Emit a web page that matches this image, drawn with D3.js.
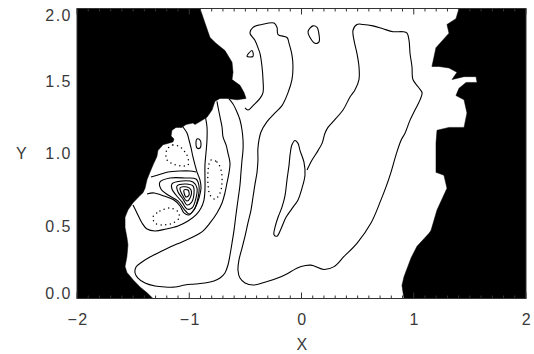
<!DOCTYPE html>
<html><head><meta charset="utf-8">
<script src="https://cdn.jsdelivr.net/npm/d3@7"></script>
<style>body{margin:0;background:#fff}svg{display:block}</style>
</head><body><svg id="chart" width="534" height="354"></svg>
<script>
// Axis ticks and labels
const xTickValues = [-2, -1, 0, 1, 2];
const xTickLabels = ["\u22122", "\u22121", "0", "1", "2"];
const yTickValues = [0, 0.5, 1, 1.5, 2];
const yTickLabels = ["0.0", "0.5", "1.0", "1.5", "2.0"];

// Regions without data (filled black)
const maskLeft = [[-2,2],[-0.904,2],[-0.860,1.90],[-0.815,1.80],[-0.762,1.76],[-0.682,1.71],[-0.619,1.63],[-0.610,1.56],[-0.619,1.51],[-0.548,1.47],[-0.512,1.42],[-0.494,1.38],[-0.575,1.37],[-0.664,1.38],[-0.726,1.38],[-0.771,1.36],[-0.797,1.30],[-0.842,1.25],[-0.904,1.22],[-0.949,1.20],[-0.967,1.21],[-1.029,1.20],[-1.065,1.18],[-1.118,1.18],[-1.154,1.16],[-1.162,1.12],[-1.136,1.10],[-1.145,1.08],[-1.234,1.06],[-1.279,1.02],[-1.288,0.98],[-1.323,0.92],[-1.350,0.87],[-1.376,0.82],[-1.394,0.76],[-1.412,0.73],[-1.439,0.71],[-1.501,0.66],[-1.546,0.61],[-1.572,0.56],[-1.572,0.49],[-1.555,0.42],[-1.546,0.37],[-1.555,0.29],[-1.572,0.22],[-1.555,0.18],[-1.501,0.13],[-1.439,0.08],[-1.376,0.04],[-1.323,0],[-2,0]];
const maskRight = [[1.403,2],[1.376,1.93],[1.296,1.89],[1.314,1.83],[1.198,1.73],[1.162,1.60],[1.225,1.60],[1.314,1.59],[1.385,1.56],[1.341,1.51],[1.448,1.53],[1.555,1.53],[1.564,1.49],[1.466,1.49],[1.403,1.45],[1.376,1.40],[1.448,1.37],[1.474,1.28],[1.448,1.18],[1.314,1.18],[1.207,1.16],[1.198,1.07],[1.198,0.87],[1.269,0.85],[1.296,0.76],[1.207,0.61],[1.154,0.47],[1.136,0.45],[1.029,0.36],[0.976,0.28],[0.913,0.15],[0.895,0.09],[0.913,0],[2,0],[2,2]];

// Solid contour levels, open paths
const contourHairpin = [[-0.753,1.359],[-0.744,1.321],[-0.726,1.252],[-0.708,1.183],[-0.699,1.114],[-0.672,1.059],[-0.655,1.003],[-0.637,0.934],[-0.646,0.866],[-0.664,0.797],[-0.682,0.728],[-0.708,0.659],[-0.753,0.590],[-0.815,0.521],[-0.887,0.459],[-0.967,0.424],[-1.065,0.390],[-1.171,0.355],[-1.261,0.321],[-1.350,0.286],[-1.421,0.252],[-1.474,0.217],[-1.483,0.176],[-1.457,0.141],[-1.394,0.107],[-1.305,0.086],[-1.216,0.079],[-1.127,0.079],[-1.038,0.093],[-0.949,0.100],[-0.860,0.107],[-0.780,0.121],[-0.726,0.141],[-0.682,0.176],[-0.655,0.231],[-0.637,0.300],[-0.619,0.383],[-0.601,0.472],[-0.584,0.576],[-0.566,0.679],[-0.548,0.783],[-0.539,0.872],[-0.530,0.955],[-0.521,1.024],[-0.521,1.093],[-0.530,1.162],[-0.548,1.231],[-0.575,1.286],[-0.610,1.341],[-0.646,1.376]];
const contourBig = [[-0.503,1.314],[-0.477,1.30],[-0.432,1.33],[-0.370,1.38],[-0.343,1.42],[-0.343,1.51],[-0.352,1.60],[-0.370,1.69],[-0.388,1.73],[-0.414,1.78],[-0.459,1.83],[-0.432,1.87],[-0.352,1.89],[-0.245,1.90],[-0.218,1.87],[-0.209,1.82],[-0.129,1.80],[-0.111,1.76],[-0.085,1.68],[-0.076,1.60],[-0.085,1.51],[-0.120,1.42],[-0.174,1.33],[-0.236,1.28],[-0.307,1.22],[-0.361,1.148],[-0.388,1.038],[-0.388,0.955],[-0.396,0.872],[-0.414,0.790],[-0.432,0.700],[-0.450,0.610],[-0.477,0.521],[-0.503,0.431],[-0.530,0.348],[-0.557,0.266],[-0.566,0.197],[-0.548,0.141],[-0.503,0.107],[-0.432,0.093],[-0.334,0.11],[-0.183,0.15],[-0.004,0.22],[0.085,0.23],[0.200,0.20],[0.290,0.22],[0.379,0.29],[0.494,0.38],[0.619,0.52],[0.708,0.68],[0.753,0.77],[0.797,0.87],[0.842,0.99],[0.886,1.09],[0.922,1.14],[0.967,1.23],[1.011,1.30],[1.056,1.37],[1.074,1.42],[1.038,1.46],[0.993,1.51],[0.984,1.60],[0.967,1.69],[0.958,1.78],[0.940,1.83],[0.904,1.84],[0.815,1.84],[0.726,1.86],[0.637,1.88],[0.548,1.89],[0.494,1.89],[0.459,1.85],[0.468,1.78],[0.494,1.69],[0.512,1.60],[0.512,1.51],[0.477,1.44],[0.432,1.39],[0.370,1.30],[0.281,1.22],[0.236,1.18],[0.209,1.14],[0.183,1.07],[0.147,1.02],[0.094,0.955],[0.049,0.886]];
const contourInner = [[-0.860,1.266],[-0.842,1.183],[-0.842,1.093],[-0.851,1.003],[-0.860,0.921],[-0.860,0.838],[-0.860,0.748],[-0.869,0.679],[-0.895,0.624],[-0.940,0.576],[-1.011,0.534],[-1.100,0.500],[-1.207,0.479],[-1.305,0.466],[-1.376,0.479],[-1.421,0.521],[-1.466,0.590],[-1.501,0.645]];
const contourPeakOuter = [[-1.056,1.183],[-1.020,1.141],[-1.002,1.093],[-0.984,1.038],[-0.967,0.976],[-0.949,0.921],[-0.931,0.872],[-0.904,0.817],[-0.895,0.762],[-0.913,0.693],[-0.949,0.624],[-1.002,0.576],[-1.047,0.590],[-1.082,0.638],[-1.136,0.679],[-1.225,0.707],[-1.314,0.728],[-1.376,0.721]];
const contourPeakShelf = [[-1.341,0.838],[-1.278,0.852],[-1.189,0.872],[-1.082,0.879],[-0.993,0.879],[-0.940,0.872]];

// Solid contour levels, closed loops
const loopNarrow = [[-0.058,1.09],[-0.085,1.06],[-0.102,0.99],[-0.111,0.92],[-0.129,0.82],[-0.147,0.71],[-0.174,0.63],[-0.209,0.56],[-0.236,0.49],[-0.245,0.44],[-0.218,0.43],[-0.183,0.48],[-0.138,0.56],[-0.085,0.62],[-0.031,0.68],[0.004,0.76],[0.031,0.85],[0.022,0.94],[-0.013,1.02],[-0.031,1.07]];
const loopTop = [[0.058,1.84],[0.102,1.88],[0.138,1.87],[0.156,1.82],[0.156,1.77],[0.120,1.76],[0.076,1.80]];
const loopTiny = [[-0.486,1.67],[-0.441,1.71],[-0.432,1.67]];
const loopSmall = [[-0.931,1.100],[-0.904,1.093],[-0.895,1.066],[-0.904,1.038],[-0.931,1.038],[-0.940,1.066]];
const peakB = [[-1.261,0.803],[-1.171,0.831],[-1.038,0.831],[-0.940,0.824],[-0.913,0.776],[-0.922,0.693],[-0.958,0.610],[-1.002,0.583],[-1.047,0.617],[-1.100,0.672],[-1.189,0.714],[-1.252,0.755]];
const peakC = [[-1.154,0.790],[-1.065,0.810],[-0.967,0.803],[-0.931,0.762],[-0.940,0.693],[-0.976,0.624],[-1.020,0.617],[-1.065,0.666],[-1.118,0.714],[-1.154,0.755]];
const peakD = [[-1.109,0.776],[-1.029,0.790],[-0.967,0.776],[-0.958,0.721],[-0.984,0.659],[-1.020,0.645],[-1.056,0.686],[-1.100,0.734]];
const peakE = [[-1.082,0.762],[-1.020,0.769],[-0.984,0.748],[-0.993,0.693],[-1.020,0.672],[-1.056,0.707]];
const peakF = [[-1.047,0.748],[-1.011,0.748],[-1.002,0.714],[-1.029,0.700]];

// Negative (dotted) contour loops
const dotUpper = [[-1.189,1.038],[-1.145,1.059],[-1.082,1.045],[-1.038,1.010],[-1.011,0.969],[-1.011,0.921],[-1.065,0.914],[-1.145,0.928],[-1.198,0.955],[-1.207,1.003]];
const dotRight = [[-0.806,0.955],[-0.753,0.941],[-0.717,0.886],[-0.708,0.803],[-0.726,0.728],[-0.771,0.686],[-0.815,0.714],[-0.833,0.790],[-0.833,0.872],[-0.824,0.928]];
const dotLower = [[-1.323,0.562],[-1.261,0.603],[-1.171,0.624],[-1.100,0.597],[-1.091,0.555],[-1.145,0.521],[-1.234,0.507],[-1.305,0.521]];

const openSolid = [contourHairpin, contourBig, contourInner, contourPeakOuter, contourPeakShelf];
const closedSolid = [loopNarrow, loopTop, loopTiny, loopSmall, peakB, peakC, peakD, peakE, peakF];
const closedDotted = [dotUpper, dotRight, dotLower];

const svg = d3.select("#chart");
const x = d3.scaleLinear().domain([-2, 2]).range([77, 526]);
const y = d3.scaleLinear().domain([0, 2]).range([298.5, 8.5]);

svg.append("defs").append("clipPath").attr("id", "plotClip")
  .append("rect").attr("x", 77).attr("y", 8.5).attr("width", 449).attr("height", 290);

const plot = svg.append("g").attr("clip-path", "url(#plotClip)");

const openLine = d3.line().x(d => x(d[0])).y(d => y(d[1])).curve(d3.curveCatmullRom.alpha(0.5));
const closedLine = d3.line().x(d => x(d[0])).y(d => y(d[1])).curve(d3.curveCatmullRomClosed.alpha(0.5));
const maskLine = d3.line().x(d => x(d[0])).y(d => y(d[1])).curve(d3.curveLinear);

plot.selectAll("path.open").data(openSolid).join("path")
  .attr("class", "open").attr("d", openLine)
  .attr("fill", "none").attr("stroke", "#000").attr("stroke-width", 1.1);
plot.selectAll("path.closed").data(closedSolid).join("path")
  .attr("class", "closed").attr("d", closedLine)
  .attr("fill", "none").attr("stroke", "#000").attr("stroke-width", 1.1);
plot.selectAll("path.dotted").data(closedDotted).join("path")
  .attr("class", "dotted").attr("d", closedLine)
  .attr("fill", "none").attr("stroke", "#000").attr("stroke-width", 1.5)
  .attr("stroke-dasharray", "0 4.6").attr("stroke-linecap", "round");

plot.selectAll("path.mask").data([maskLeft, maskRight]).join("path")
  .attr("class", "mask").attr("d", d => maskLine(d) + "Z")
  .attr("fill", "#000").attr("stroke", "#000").attr("stroke-width", 0.5);

// Axes: ticks point into the plot, minor ticks every 0.1
const minorX = d3.range(-20, 21).map(i => i / 10);
const axisG = svg.append("g").attr("stroke", "#333").attr("stroke-width", 1);
axisG.append("rect").attr("x", 77).attr("y", 8.5).attr("width", 449).attr("height", 290)
  .attr("fill", "none");
minorX.forEach(v => {
  const major = Math.abs(v - Math.round(v)) < 1e-9;
  const len = major ? 6 : 3;
  axisG.append("line").attr("x1", x(v)).attr("x2", x(v)).attr("y1", y(0)).attr("y2", y(0) - len);
  axisG.append("line").attr("x1", x(v)).attr("x2", x(v)).attr("y1", y(2)).attr("y2", y(2) + len);
});

const font = "'Liberation Sans', Arial, sans-serif";
const textStyle = sel => sel.attr("font-family", font).attr("font-size", 16)
  .attr("letter-spacing", 1.5).attr("fill", "#3a3a3a");
svg.selectAll("text.xl").data(xTickValues).join("text")
  .attr("class", "xl").attr("x", d => x(d) + 1).attr("y", 325)
  .attr("text-anchor", "middle").call(textStyle).text((d, i) => xTickLabels[i]);
svg.selectAll("text.yl").data(yTickValues).join("text")
  .attr("class", "yl").attr("x", 72).attr("y", d => Math.min(Math.max(y(d), 15), 293) + 5.8)
  .attr("text-anchor", "end").call(textStyle).text((d, i) => yTickLabels[i]);
svg.append("text").attr("x", x(0) + 1).attr("y", 350).attr("text-anchor", "middle")
  .call(textStyle).text("X");
svg.append("text").attr("x", 22).attr("y", y(1) + 5.8).attr("text-anchor", "middle")
  .call(textStyle).text("Y");
</script></body></html>
